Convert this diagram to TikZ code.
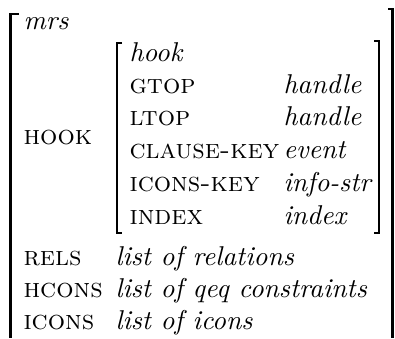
\documentclass[tikz,border=0pt]{standalone}
\usepackage{fontspec}
\usetikzlibrary{positioning}

\begin{document}
\begin{tikzpicture}[
  x=0.375pt, y=-0.375pt,
  attr/.style={anchor=base west, inner sep=0pt, font=\fontsize{10.2}{12}\selectfont\scshape},
  val/.style={anchor=base west, inner sep=0pt, font=\fontsize{10.2}{12}\selectfont\itshape},
  brk/.style={line width=0.95pt},
]
\useasboundingbox (0,0) rectangle (395,338);

% Outer matrix -- type and features
\node[val] (mrs) at (23,29) {mrs};
\node[attr] (hookf) at (23,144) {hook};
\node[attr] (rels) at (23,265) {rels};
\node[attr] (hcons) at (23,297) {hcons};
\node[attr] (icons) at (23,329) {icons};
\node[val] (relsv) at (115,265) {list of relations};
\node[val] (hconsv) at (115,297) {list of qeq constraints};
\node[val] (iconsv) at (115,329) {list of icons};

% Inner matrix -- value of HOOK
\node[val] (hook) at (129,61) {hook};
\node[attr] (gtop) at (129,93) {gtop};
\node[attr] (ltop) at (129,125) {ltop};
\node[attr] (ckey) at (129,158) {clause-key};
\node[attr] (ikey) at (129,191) {icons-key};
\node[attr] (index) at (129,224) {index};
\node[val] (gtopv) at (283,93) {handle};
\node[val] (ltopv) at (283,125) {handle};
\node[val] (ckeyv) at (283,158) {event};
\node[val] (ikeyv) at (283,191) {info-str};
\node[val] (indexv) at (283,224) {index};

% Brackets
\draw[brk] (19,14) -- (10.5,14) -- (10.5,338);
\draw[brk] (388,9) -- (392.5,9) -- (392.5,338);
\draw[brk] (122,43) -- (117,43) -- (117,233) -- (122,233);
\draw[brk] (374,41) -- (379,41) -- (379,233) -- (374,233);
\end{tikzpicture}
\end{document}
